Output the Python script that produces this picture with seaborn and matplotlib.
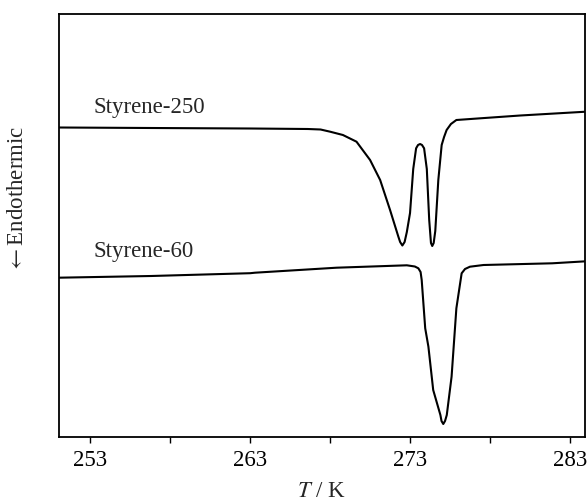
import matplotlib
matplotlib.use('Agg')
import numpy as np
import pandas as pd
import matplotlib.pyplot as plt
import seaborn as sns
from matplotlib.ticker import FixedLocator

# DSC traces, values (signal in arbitrary units)
t_250 = [251.0, 256.8, 263.0, 266.6, 267.4, 268.0, 268.8, 269.65, 270.5, 271.13,
         271.75, 272.27, 272.38, 272.52, 272.66, 272.8, 273.0, 273.2, 273.38, 273.5,
         273.63, 273.75, 273.88, 274.05, 274.2, 274.31, 274.39, 274.48, 274.58, 274.77,
         274.98, 275.13, 275.29, 275.56, 275.9, 277.4, 279.9, 284.0]
s_250 = [309.5, 309.0, 308.5, 308.0, 307.5, 305.3, 302.0, 295.3, 277.0, 257.0,
         227.0, 200.3, 195.0, 191.5, 195.0, 205.0, 224.0, 268.0, 288.7, 292.0,
         293.0, 292.0, 288.7, 268.0, 217.0, 194.0, 191.0, 194.0, 206.0, 257.0,
         292.0, 300.0, 307.0, 313.0, 317.0, 318.7, 321.5, 325.3]

t_60 = [251.0, 256.8, 263.0, 263.3, 268.4, 272.8, 273.3, 273.52, 273.66, 273.73,
        273.95, 274.15, 274.45, 274.9, 274.97, 275.08, 275.19, 275.3, 275.6, 275.9,
        276.23, 276.44, 276.75, 277.6, 281.9, 284.0]
s_60 = [159.3, 161.0, 163.8, 164.3, 169.3, 171.7, 170.5, 168.7, 165.0, 157.0,
        108.7, 90.3, 47.0, 22.0, 16.0, 13.0, 16.0, 22.0, 60.3, 128.7,
        163.7, 168.0, 170.3, 172.0, 173.7, 175.7]

labels = ['Styrene-250', 'Styrene-60']
x_ticks = [253, 263, 273, 283]
x_minor = [258, 268, 278]

sns.set_style('ticks')
plt.rcParams['font.family'] = ['Liberation Serif', 'DejaVu Serif']
plt.rcParams['mathtext.fontset'] = 'stix'

df = pd.concat([
    pd.DataFrame({'T': t_250, 'signal': s_250, 'sample': labels[0]}),
    pd.DataFrame({'T': t_60, 'signal': s_60, 'sample': labels[1]}),
])

fig = plt.figure(figsize=(5.87, 5.01), dpi=100)
ax = fig.add_axes([58.5 / 587, 64 / 501, 526.5 / 587, 423 / 501])

sns.lineplot(data=df, x='T', y='signal', units='sample', estimator=None,
             sort=False, color='black', lw=1.5, ax=ax, legend=False)

ax.set_xlim(251.0, 283.95)
ax.set_ylim(0, 423)
ax.set_xticks(x_ticks)
ax.set_xticklabels([str(v) for v in x_ticks])
ax.xaxis.set_minor_locator(FixedLocator(x_minor))
ax.tick_params(axis='x', which='both', direction='out', length=4.5, width=1.0,
               labelsize=16.5, pad=5, colors='black')
ax.set_yticks([])
for sp in ax.spines.values():
    sp.set_visible(True)
    sp.set_linewidth(1.3)
    sp.set_color('black')

ax.set_xlabel('$T$ / K', fontsize=16.5, labelpad=7)
ax.set_ylabel('')

ax.text(253.2, 324, labels[0], fontsize=16.5, ha='left', va='baseline')
ax.text(253.2, 180, labels[1], fontsize=16.5, ha='left', va='baseline')

fig.text(17.5 / 587, 1 - 199 / 501, r'$\leftarrow$Endothermic', rotation=90,
         fontsize=16.5, ha='center', va='center')

fig.savefig('out.png', dpi=100)
